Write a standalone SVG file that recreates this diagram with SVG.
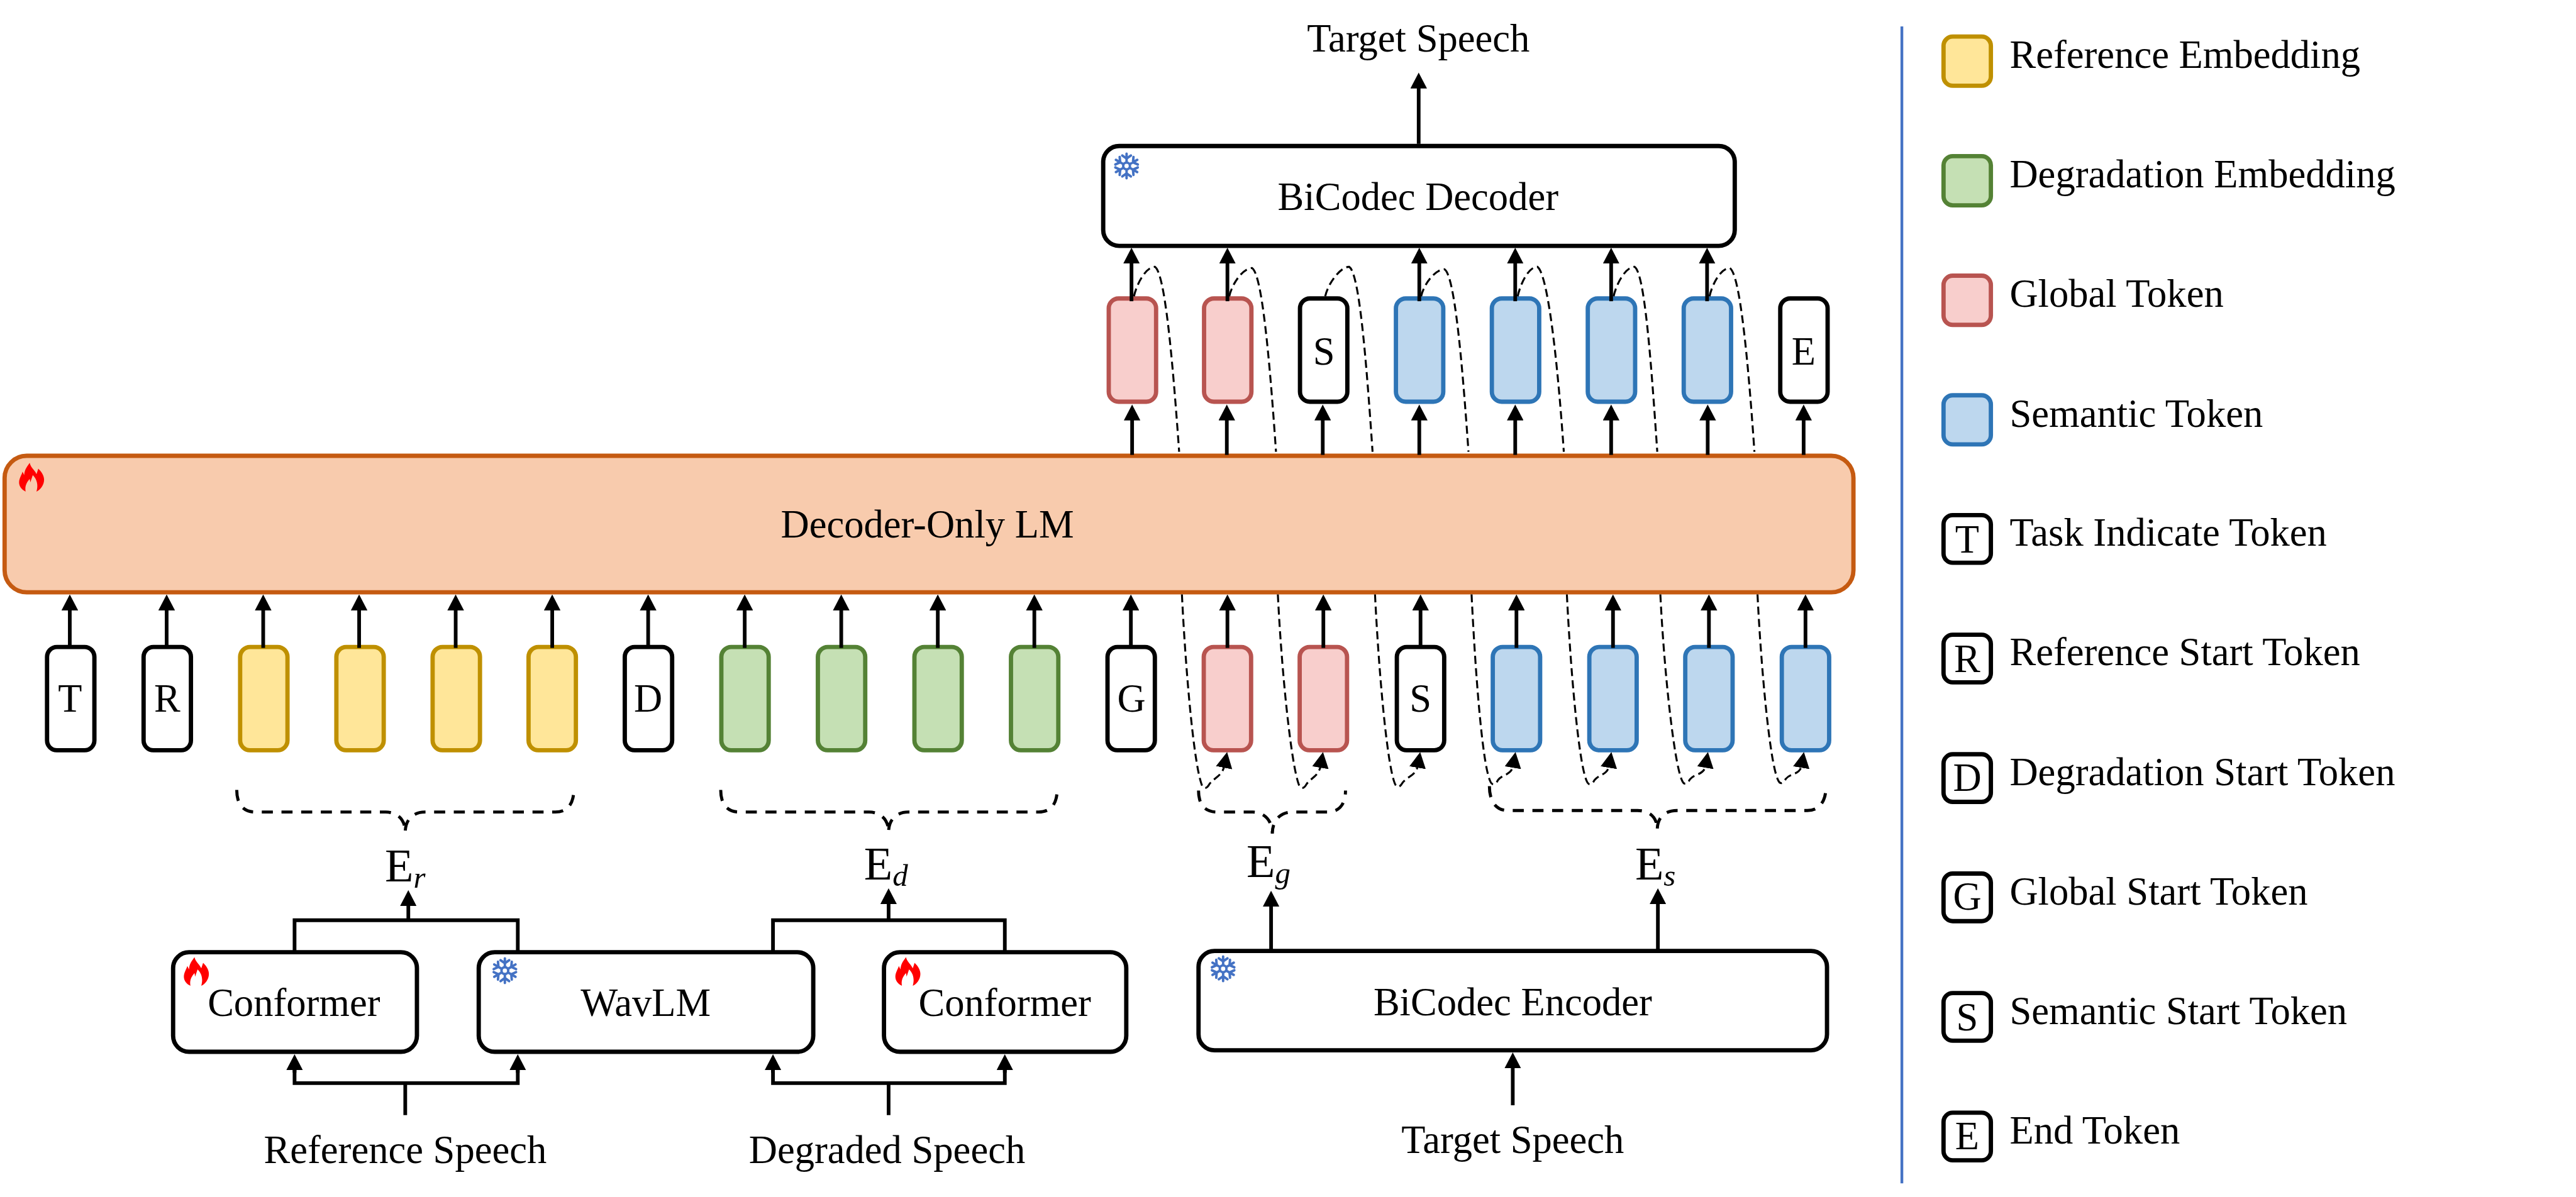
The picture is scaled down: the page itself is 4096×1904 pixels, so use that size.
<svg xmlns="http://www.w3.org/2000/svg" width="4096" height="1904" viewBox="0 0 4096 1904">
<style>
text{font-family:"Liberation Serif","Times New Roman",serif;font-size:64px;fill:#000;text-anchor:middle}
text.l{text-anchor:start}
text.e{text-anchor:start;font-size:76px}
tspan.sub{font-size:50px;font-style:italic}
.box{fill:#fff;stroke:#000;stroke-width:7}
.lm{fill:#F8CBAD;stroke:#C55A11;stroke-width:7}
.y{fill:#FFE699;stroke:#BF9000;stroke-width:7}
.g{fill:#C5E0B4;stroke:#548235;stroke-width:7}
.r{fill:#F8CECC;stroke:#B85450;stroke-width:7}
.b{fill:#BDD7EE;stroke:#2E75B6;stroke-width:7}
.w{fill:#fff;stroke:#000;stroke-width:7}
.a{fill:none;stroke:#000;stroke-width:6;marker-end:url(#h)}
.p{fill:none;stroke:#000;stroke-width:6}
.d{fill:none;stroke:#000;stroke-width:3.2;stroke-dasharray:13 7}
.da{fill:none;stroke:#000;stroke-width:3.2;stroke-dasharray:13 7;marker-end:url(#h)}
.br{fill:none;stroke:#000;stroke-width:5;stroke-dasharray:18 14}
</style>
<defs>
<marker id="h" markerUnits="userSpaceOnUse" viewBox="0 0 26 27" markerWidth="26" markerHeight="27" refX="5" refY="13.5" orient="auto"><path d="M0,0L26,13.5L0,27Z" fill="#000"/></marker>
<path id="flame" fill="#f00" d="M17.3,0C19,8 25.7,11.7 28.3,18.3L31.3,9.3C37.3,15 40.7,21.7 40.7,27.3C40.7,36.7 34,44 28.3,46.7C30.7,38.3 30.7,28.3 22.3,20L18.3,31.7L17.3,26C12.3,31.7 9,38.3 10.7,46.7C4,43.3 0,38.3 0,31.7C0,25 4,20 5.7,14.3L8.3,20C9,10 14,5 17.3,0Z"/>
<path id="arm" d="M0,-7V-20M-7,-17L0,-12L7,-17"/>
<g id="snow" fill="none" stroke="#4472C4" stroke-width="4" stroke-linecap="round" stroke-linejoin="round">
<circle r="5.5"/>
<use href="#arm"/><use href="#arm" transform="rotate(60)"/><use href="#arm" transform="rotate(120)"/><use href="#arm" transform="rotate(180)"/><use href="#arm" transform="rotate(240)"/><use href="#arm" transform="rotate(300)"/>
</g>
</defs>
<g transform="scale(0.9778)">
<g id="lm"><rect class="lm" x="7.5" y="741.5" width="3006.5" height="222" rx="36"/><use href="#flame" transform="translate(31,753)"/><text x="1508" y="874.5">Decoder-Only LM</text></g>
<g id="decoder"><rect class="box" x="1794" y="237.5" width="1027" height="162.5" rx="26"/><use href="#snow" transform="translate(1832,270)"/><text x="2306" y="341.5">BiCodec Decoder</text></g>
<g id="encoder"><rect class="box" x="1949" y="1547" width="1022" height="161.5" rx="26"/><use href="#snow" transform="translate(1989,1576)"/><text x="2460" y="1651.5">BiCodec Encoder</text></g>
<g id="conformer1"><rect class="box" x="281.5" y="1549" width="396.5" height="162" rx="26"/><use href="#flame" transform="translate(299,1557)"/><text x="478" y="1653">Conformer</text></g>
<g id="wavlm"><rect class="box" x="778.5" y="1549" width="544" height="162" rx="26"/><use href="#snow" transform="translate(821,1579)"/><text x="1050" y="1653">WavLM</text></g>
<g id="conformer2"><rect class="box" x="1437.5" y="1549" width="394" height="162" rx="26"/><use href="#flame" transform="translate(1456,1557)"/><text x="1634" y="1653">Conformer</text></g>

<g id="top-tokens">
<g id="tt1"><rect class="r" x="1803" y="485.5" width="77" height="168" rx="16"/></g>
<g id="tt2"><rect class="r" x="1958" y="485.5" width="77" height="168" rx="16"/></g>
<g id="tt3"><rect class="w" x="2114" y="485.5" width="77" height="168" rx="16"/><text x="2153" y="593">S</text></g>
<g id="tt4"><rect class="b" x="2270" y="485.5" width="77" height="168" rx="16"/></g>
<g id="tt5"><rect class="b" x="2426" y="485.5" width="77" height="168" rx="16"/></g>
<g id="tt6"><rect class="b" x="2582" y="485.5" width="77" height="168" rx="16"/></g>
<g id="tt7"><rect class="b" x="2738" y="485.5" width="77" height="168" rx="16"/></g>
<g id="tt8"><rect class="w" x="2895" y="485.5" width="77" height="168" rx="16"/><text x="2933" y="593">E</text></g>
</g>
<g id="bottom-tokens">
<g id="bt1"><rect class="w" x="76.5" y="1052.5" width="77" height="168" rx="16"/><text x="114" y="1158">T</text></g>
<g id="bt2"><rect class="w" x="233.5" y="1052.5" width="77" height="168" rx="16"/><text x="272" y="1158">R</text></g>
<g id="bt3"><rect class="y" x="390.5" y="1052.5" width="77" height="168" rx="16"/></g>
<g id="bt4"><rect class="y" x="547" y="1052.5" width="77" height="168" rx="16"/></g>
<g id="bt5"><rect class="y" x="703.5" y="1052.5" width="77" height="168" rx="16"/></g>
<g id="bt6"><rect class="y" x="859.5" y="1052.5" width="77" height="168" rx="16"/></g>
<g id="bt7"><rect class="w" x="1016" y="1052.5" width="77" height="168" rx="16"/><text x="1054" y="1158">D</text></g>
<g id="bt8"><rect class="g" x="1173" y="1052.5" width="77" height="168" rx="16"/></g>
<g id="bt9"><rect class="g" x="1330" y="1052.5" width="77" height="168" rx="16"/></g>
<g id="bt10"><rect class="g" x="1487" y="1052.5" width="77" height="168" rx="16"/></g>
<g id="bt11"><rect class="g" x="1644" y="1052.5" width="77" height="168" rx="16"/></g>
<g id="bt12"><rect class="w" x="1801" y="1052.5" width="77" height="168" rx="16"/><text x="1840" y="1158">G</text></g>
<g id="bt13"><rect class="r" x="1957.5" y="1052.5" width="77" height="168" rx="16"/></g>
<g id="bt14"><rect class="r" x="2113.5" y="1052.5" width="77" height="168" rx="16"/></g>
<g id="bt15"><rect class="w" x="2271.5" y="1052.5" width="77" height="168" rx="16"/><text x="2310" y="1158">S</text></g>
<g id="bt16"><rect class="b" x="2427.5" y="1052.5" width="77" height="168" rx="16"/></g>
<g id="bt17"><rect class="b" x="2584.5" y="1052.5" width="77" height="168" rx="16"/></g>
<g id="bt18"><rect class="b" x="2740.5" y="1052.5" width="77" height="168" rx="16"/></g>
<g id="bt19"><rect class="b" x="2897.5" y="1052.5" width="77" height="168" rx="16"/></g>
</g>

<g id="connectors">
<path class="a" d="M2307,234V139"/>
<path class="a" d="M1840,490V424"/><path class="a" d="M1996,490V424"/><path class="a" d="M2308,490V424"/><path class="a" d="M2464,490V424"/><path class="a" d="M2620,490V424"/><path class="a" d="M2776,490V424"/>
<path class="a" d="M1841,740V679"/><path class="a" d="M1995,740V679"/><path class="a" d="M2151,740V679"/><path class="a" d="M2308,740V679"/><path class="a" d="M2464,740V679"/><path class="a" d="M2620,740V679"/><path class="a" d="M2777,740V679"/><path class="a" d="M2933,740V679"/>
<path class="a" d="M113.5,1054V988"/><path class="a" d="M271,1054V988"/><path class="a" d="M428,1054V988"/><path class="a" d="M584,1054V988"/><path class="a" d="M741,1054V988"/><path class="a" d="M898,1054V988"/><path class="a" d="M1054,1054V988"/><path class="a" d="M1211,1054V988"/><path class="a" d="M1368,1054V988"/><path class="a" d="M1525,1054V988"/><path class="a" d="M1682,1054V988"/><path class="a" d="M1839,1054V988"/><path class="a" d="M1996,1054V988"/><path class="a" d="M2152,1054V988"/><path class="a" d="M2310,1054V988"/><path class="a" d="M2466,1054V988"/><path class="a" d="M2623,1054V988"/><path class="a" d="M2779,1054V988"/><path class="a" d="M2936,1054V988"/>

<path class="d" d="M1844,482C1849,460 1864,434 1878,434C1894,444 1906,574 1917.5,735"/>
<path class="d" d="M1999,482C2004,460 2022,436 2036,436C2052,446 2064,576 2075,735"/>
<path class="d" d="M2155,482C2160,460 2180,434 2194,434C2210,444 2221,574 2232,735"/>
<path class="d" d="M2311,482C2316,460 2335,438 2349,438C2365,448 2377,578 2388,735"/>
<path class="d" d="M2468,482C2473,460 2486,434 2500,434C2516,444 2532,574 2543,735"/>
<path class="d" d="M2624,482C2629,460 2644,434 2658,434C2674,444 2684,574 2695,735"/>
<path class="d" d="M2780,482C2785,460 2799,436 2813,436C2829,446 2842,576 2853,735"/>

<path class="da" d="M1922,967C1928,1090 1941,1240 1954,1276C1957,1284 1962,1284 1967,1275C1976,1264 1988,1262 1991.5,1244"/>
<path class="da" d="M2078,967C2084,1090 2099,1240 2112,1276C2115,1284 2120,1284 2125,1275C2134,1264 2145,1262 2148,1244"/>
<path class="da" d="M2236,967C2242,1090 2255,1240 2268,1274C2271,1282 2276,1282 2281,1273C2290,1262 2303,1262 2306,1244"/>
<path class="da" d="M2393,967C2399,1090 2410,1240 2423,1270C2426,1278 2431,1278 2436,1269C2445,1258 2458,1262 2461,1244"/>
<path class="da" d="M2548,967C2554,1090 2567,1240 2580,1270C2583,1278 2588,1278 2593,1269C2602,1258 2614,1262 2617,1244"/>
<path class="da" d="M2700,967C2706,1090 2722,1240 2735,1269C2738,1277 2743,1277 2748,1268C2757,1257 2771,1262 2774,1244"/>
<path class="da" d="M2858,967C2864,1090 2878,1240 2891,1268C2894,1276 2899,1276 2904,1267C2913,1256 2927,1262 2930,1244"/>

<path class="br" d="M385,1285C385,1305 393,1321 415,1321L627,1321C645,1321 659,1332 659,1354C659,1332 673,1321 691,1321L903,1321C925,1321 933,1305 933,1285"/>
<path class="br" d="M1172,1285C1172,1305 1180,1321 1202,1321L1413,1321C1431,1321 1445,1332 1445,1354C1445,1332 1459,1321 1477,1321L1689,1321C1711,1321 1719,1305 1719,1285"/>
<path class="br" d="M1949,1286C1949,1306 1957,1321 1979,1321L2037,1321C2055,1321 2069,1334 2069,1356C2069,1334 2083,1321 2101,1321L2158,1321C2180,1321 2188,1306 2188,1286"/>
<path class="br" d="M2422,1279C2422,1300 2430,1318.5 2452,1318.5L2663,1318.5C2681,1318.5 2695,1328 2695,1350C2695,1328 2709,1318.5 2727,1318.5L2939,1318.5C2961,1318.5 2969,1300 2969,1283"/>

<path class="p" d="M479,1549V1497H842V1549"/><path class="a" d="M664,1497V1469"/>
<path class="p" d="M1257,1549V1497H1634V1549"/><path class="a" d="M1445,1497V1466"/>
<path class="p" d="M479,1736V1762H842V1736"/><path class="a" d="M479,1745V1736"/><path class="a" d="M842,1745V1736"/><path class="p" d="M659,1762V1814"/>
<path class="p" d="M1257,1736V1762H1634V1736"/><path class="a" d="M1257,1745V1736"/><path class="a" d="M1634,1745V1736"/><path class="p" d="M1445,1762V1814"/>
<path class="a" d="M2067,1547V1470"/><path class="a" d="M2696,1547V1466"/><path class="a" d="M2460,1798V1733"/>
</g>

<g id="labels">
<text x="2306.5" y="84">Target Speech</text>
<text x="659" y="1892">Reference Speech</text>
<text x="1442.5" y="1892">Degraded Speech</text>
<text x="2460" y="1876">Target Speech</text>
<text class="e" x="626" y="1434">E<tspan class="sub" dy="10">r</tspan></text>
<text class="e" x="1405" y="1431">E<tspan class="sub" dy="10">d</tspan></text>
<text class="e" x="2027" y="1427">E<tspan class="sub" dy="10">g</tspan></text>
<text class="e" x="2659" y="1431">E<tspan class="sub" dy="10">s</tspan></text>
</g>

<g id="legend">
<rect x="3090.5" y="43" width="4.5" height="1882" fill="#4472C4"/>
<g id="lg1"><rect class="y" x="3160.5" y="59.5" width="77" height="80" rx="15"/><text class="l" x="3268" y="110.5">Reference Embedding</text></g>
<g id="lg2"><rect class="g" x="3160.5" y="254" width="77" height="80" rx="15"/><text class="l" x="3268" y="305">Degradation Embedding</text></g>
<g id="lg3"><rect class="r" x="3160.5" y="448.5" width="77" height="80" rx="15"/><text class="l" x="3268" y="499.5">Global Token</text></g>
<g id="lg4"><rect class="b" x="3160.5" y="643" width="77" height="80" rx="15"/><text class="l" x="3268" y="694">Semantic Token</text></g>
<g id="lg5"><rect class="w" x="3160.5" y="838" width="77" height="77.5" rx="15"/><text x="3199" y="899">T</text><text class="l" x="3268" y="888">Task Indicate Token</text></g>
<g id="lg6"><rect class="w" x="3160.5" y="1032.5" width="77" height="77.5" rx="15"/><text x="3199" y="1093">R</text><text class="l" x="3268" y="1082.5">Reference Start Token</text></g>
<g id="lg7"><rect class="w" x="3160.5" y="1227" width="77" height="77.5" rx="15"/><text x="3199" y="1287">D</text><text class="l" x="3268" y="1277">Degradation Start Token</text></g>
<g id="lg8"><rect class="w" x="3160.5" y="1421" width="77" height="77.5" rx="15"/><text x="3199" y="1480">G</text><text class="l" x="3268" y="1471.5">Global Start Token</text></g>
<g id="lg9"><rect class="w" x="3160.5" y="1615.5" width="77" height="77.5" rx="15"/><text x="3199" y="1676">S</text><text class="l" x="3268" y="1666">Semantic Start Token</text></g>
<g id="lg10"><rect class="w" x="3160.5" y="1810" width="77" height="77.5" rx="15"/><text x="3199" y="1870">E</text><text class="l" x="3268" y="1860.5">End Token</text></g>
</g>
</g>
</svg>
